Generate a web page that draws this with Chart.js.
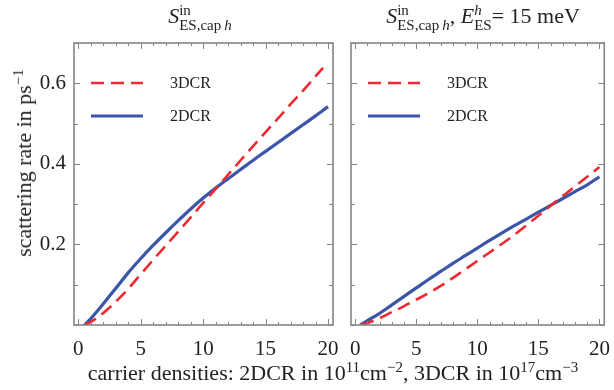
<!DOCTYPE html>
<html>
<head>
<meta charset="utf-8">
<script src="https://cdn.jsdelivr.net/npm/chart.js@4.4.1/dist/chart.umd.min.js"></script>
<style>
    body { margin: 0; background: #fff; }
    #wrap { position: relative; width: 614px; height: 390px; overflow: hidden;
            font-family: "Liberation Serif", "DejaVu Serif", serif; color: #222; }
    .box { position: absolute; top: 0; }
    .ttl { position: absolute; top: 3px; font-size: 22px; line-height: 26px; white-space: nowrap; text-align: center; }
    .ss { display: inline-block; vertical-align: -7px; font-size: 15px; line-height: 15px; text-align: left; }
    .ss span { display: block; }
    #xlab { position: absolute; left: 0; width: 666px; top: 361px; text-align: center;
            font-size: 22px; line-height: 24px; white-space: nowrap; }
    #xlab sup, #ylab sup { font-size: 15px; vertical-align: 8px; line-height: 0; }
    #ylab { position: absolute; left: 24px; top: 163px; font-size: 22px; line-height: 24px;
            white-space: nowrap; transform: translate(-50%, -50%) rotate(-90deg); }
</style>
</head>
<body>
<div id="wrap">
    <div class="box" style="left:0"><canvas id="grafEsq" width="345" height="390"></canvas></div>
    <div class="box" style="left:340px"><canvas id="grafDir" width="274" height="390"></canvas></div>

    <div class="ttl" style="left:100px;width:200px"><i>S</i><span class="ss"><span>in</span><span>ES,cap&thinsp;<i>h</i></span></span></div>
    <div class="ttl" style="left:333px;width:300px"><i>S</i><span class="ss"><span>in</span><span>ES,cap&thinsp;<i>h</i></span></span>, <i>E</i><span class="ss"><span><i>h</i></span><span>ES</span></span>= 15 meV</div>

    <div id="ylab">scattering rate in ps<sup>−1</sup></div>
    <div id="xlab">carrier densities: 2DCR in 10<sup>11</sup>cm<sup>−2</sup>, 3DCR in 10<sup>17</sup>cm<sup>−3</sup></div>
</div>

<script>
// ---- dados ----
const rotulos = ["3DCR", "2DCR"];

// painel esquerdo
const xEsq3D = [0.5, 1, 1.5, 2, 3, 4, 5, 6, 7, 8, 9, 10, 11, 12, 13, 14, 15, 16, 17, 18, 19, 19.6];
const yEsq3D = [0, 0.008, 0.018, 0.03, 0.058, 0.09, 0.126, 0.162, 0.197, 0.232, 0.267, 0.303, 0.338, 0.373, 0.409, 0.444, 0.479, 0.513, 0.548, 0.582, 0.617, 0.638];
const xEsq2D = [0.5, 1, 1.5, 2, 3, 4, 5, 6, 7, 8, 9, 10, 11, 12, 13, 14, 15, 16, 17, 18, 19, 20];
const yEsq2D = [0, 0.016, 0.034, 0.053, 0.091, 0.13, 0.165, 0.198, 0.229, 0.259, 0.288, 0.315, 0.34, 0.363, 0.386, 0.409, 0.431, 0.453, 0.475, 0.497, 0.519, 0.542];

// painel direito (E_ES = 15 meV)
const xDir3D = [0.5, 1, 2, 3, 4, 5, 6, 7, 8, 9, 10, 11, 12, 13, 14, 15, 16, 17, 18, 19, 20];
const yDir3D = [0, 0.005, 0.017, 0.032, 0.047, 0.063, 0.079, 0.097, 0.117, 0.138, 0.159, 0.18, 0.201, 0.223, 0.247, 0.271, 0.296, 0.32, 0.344, 0.368, 0.392];
const xDir2D = [0.4, 1, 2, 3, 4, 5, 6, 7, 8, 9, 10, 11, 12, 13, 14, 15, 16, 17, 18, 19, 20];
const yDir2D = [0, 0.011, 0.029, 0.05, 0.071, 0.092, 0.113, 0.133, 0.153, 0.172, 0.191, 0.21, 0.228, 0.246, 0.263, 0.28, 0.297, 0.314, 0.331, 0.348, 0.368];

const rotulosY = [0.2, 0.4, 0.6];
const rotulosX = [0, 5, 10, 15, 20];

const vermelho = "#ee2a30";
const azul = "#3b55a8";
const corMoldura = "#858585";
const fonte = "'Liberation Serif', 'DejaVu Serif', serif";

function pontos(xs, ys) {
    return xs.map((x, i) => ({ x: x, y: ys[i] }));
}

/* ------------------------------
   Moldura com ticks para dentro
-------------------------------*/
const moldura = {
    id: "moldura",
    afterDraw(chart) {
        const { ctx, chartArea: a, scales: { x, y } } = chart;
        ctx.save();
        ctx.strokeStyle = corMoldura;
        ctx.lineWidth = 1;
        ctx.beginPath();
        x.ticks.forEach(t => {
            const px = Math.round(x.getPixelForValue(t.value)) + 0.5;
            const len = rotulosX.includes(t.value) ? 6 : 3;
            ctx.moveTo(px, a.bottom); ctx.lineTo(px, a.bottom - len);
            ctx.moveTo(px, a.top); ctx.lineTo(px, a.top + len);
        });
        y.ticks.forEach(t => {
            const py = Math.round(y.getPixelForValue(t.value)) + 0.5;
            const major = rotulosY.some(v => Math.abs(v - t.value) < 1e-6);
            const len = major ? 6 : 4;
            ctx.moveTo(a.left, py); ctx.lineTo(a.left + len, py);
            ctx.moveTo(a.right, py); ctx.lineTo(a.right - len, py);
        });
        ctx.stroke();
        ctx.lineWidth = 1.6;
        ctx.strokeRect(a.left, a.top, a.right - a.left, a.bottom - a.top);
        ctx.restore();
    }
};

/* ------------------------------
   Legenda dentro do gráfico
-------------------------------*/
const legenda = {
    id: "legendaInterna",
    afterDatasetsDraw(chart) {
        const { ctx, chartArea: a } = chart;
        ctx.save();
        chart.data.datasets.forEach((ds, i) => {
            const yy = a.top + 40 + i * 33;
            ctx.strokeStyle = ds.borderColor;
            ctx.lineWidth = ds.borderWidth;
            ctx.setLineDash(ds.borderDash || []);
            ctx.beginPath();
            ctx.moveTo(a.left + 17, yy);
            ctx.lineTo(a.left + 69, yy);
            ctx.stroke();
            ctx.setLineDash([]);
            ctx.fillStyle = "#222";
            ctx.font = "16px " + fonte;
            ctx.textBaseline = "middle";
            ctx.fillText(ds.label, a.left + 96, yy + 1);
        });
        ctx.restore();
    }
};

function montarPainel(id, serie3D, serie2D, comRotulosY, larguraY, padDir) {
    return new Chart(document.getElementById(id), {
        type: "line",
        data: {
            datasets: [{
                label: rotulos[0],
                data: serie3D,
                borderColor: vermelho,
                borderWidth: 2.6,
                borderDash: [13, 7],
                pointRadius: 0,
                cubicInterpolationMode: "monotone"
            }, {
                label: rotulos[1],
                data: serie2D,
                borderColor: azul,
                borderWidth: 3.2,
                pointRadius: 0,
                cubicInterpolationMode: "monotone"
            }]
        },
        options: {
            responsive: false,
            animation: false,
            layout: { padding: { left: 0, top: 43, right: padDir, bottom: 20 } },
            plugins: { legend: { display: false }, tooltip: { enabled: false } },
            scales: {
                x: {
                    type: "linear",
                    min: -0.35,
                    max: 20.4,
                    grid: { display: false },
                    border: { display: false },
                    afterFit: s => { s.height = 45; },
                    ticks: {
                        stepSize: 1,
                        includeBounds: false,
                        autoSkip: false,
                        maxRotation: 0,
                        padding: 4,
                        color: "#222",
                        font: { family: fonte, size: 21 },
                        callback: v => rotulosX.includes(v) ? String(Math.abs(v)) : ""
                    }
                },
                y: {
                    min: 0,
                    max: 0.7,
                    grid: { display: false },
                    border: { display: false },
                    afterFit: s => { s.width = larguraY; },
                    ticks: {
                        display: comRotulosY,
                        stepSize: 0.1,
                        includeBounds: false,
                        autoSkip: false,
                        padding: 0,
                        color: "#222",
                        font: { family: fonte, size: 21 },
                        callback: v => rotulosY.some(r => Math.abs(r - v) < 1e-6) ? v.toFixed(1) : ""
                    }
                }
            }
        },
        plugins: [moldura, legenda]
    });
}

montarPainel("grafEsq", pontos(xEsq3D, yEsq3D), pontos(xEsq2D, yEsq2D), true, 74, 12);
montarPainel("grafDir", pontos(xDir3D, yDir3D), pontos(xDir2D, yDir2D), false, 11, 6);
</script>
</body>
</html>
